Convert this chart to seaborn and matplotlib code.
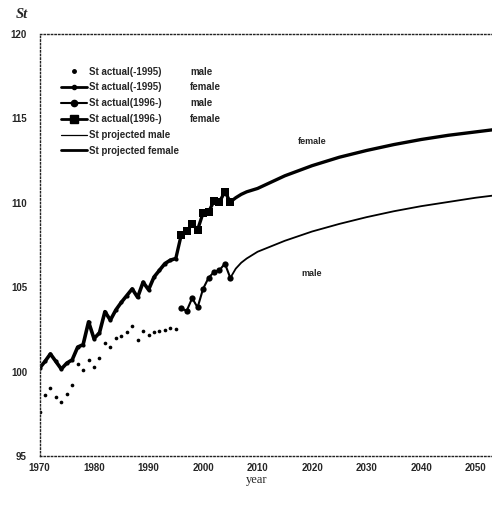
import numpy as np
import pandas as pd
import matplotlib
matplotlib.use("Agg")
import matplotlib.pyplot as plt
import seaborn as sns
from matplotlib.lines import Line2D

# ---- data -------------------------------------------------------------
years_pre = list(range(1970, 1996))
male_pre = [97.6, 98.6, 99.0, 98.5, 98.2, 98.7, 99.2, 100.45, 100.1, 100.7,
            100.25, 100.8, 101.7, 101.45, 102.0, 102.1, 102.35, 102.7, 101.9,
            102.4, 102.15, 102.35, 102.4, 102.45, 102.6, 102.5]
female_pre = [100.2, 100.6, 101.05, 100.6, 100.15, 100.5, 100.7, 101.45, 101.6,
              102.95, 101.95, 102.3, 103.55, 103.05, 103.65, 104.1, 104.5,
              104.9, 104.4, 105.3, 104.85, 105.6, 106.0, 106.4, 106.6, 106.7]

years_post = list(range(1996, 2006))
male_post = [103.75, 103.6, 104.35, 103.8, 104.9, 105.55, 105.9, 106.0, 106.4, 105.55]
female_post = [108.1, 108.3, 108.75, 108.4, 109.4, 109.45, 110.1, 110.05, 110.65, 110.05]

years_proj = [2005, 2006, 2007, 2008, 2010, 2015, 2020, 2025, 2030, 2035,
              2040, 2045, 2050, 2055]
male_proj = [105.55, 106.1, 106.45, 106.7, 107.1, 107.75, 108.3, 108.75, 109.15,
             109.5, 109.8, 110.05, 110.3, 110.5]
female_proj = [110.05, 110.3, 110.5, 110.65, 110.85, 111.6, 112.2, 112.7, 113.1,
               113.45, 113.75, 114.0, 114.2, 114.4]

x_ticks = [1970, 1980, 1990, 2000, 2010, 2020, 2030, 2040, 2050]
y_ticks = [95, 100, 105, 110, 115, 120]

legend_labels = ["St actual(-1995)", "St actual(-1995)", "St actual(1996-)",
                 "St actual(1996-)", "St projected male", "St projected female"]
legend_sex = ["male", "female", "male", "female"]

# ---- figure -----------------------------------------------------------
sns.set_style("white")
plt.rcParams["font.family"] = ["Liberation Sans", "DejaVu Sans"]

fig = plt.figure(figsize=(4.92, 5.09), dpi=100)
ax = fig.add_axes([39.5 / 492, 1 - 456 / 509, (492 - 39.5) / 492, (456 - 34) / 509])

pre = pd.DataFrame({"year": years_pre, "male": male_pre, "female": female_pre})
post = pd.DataFrame({"year": years_post, "male": male_post, "female": female_post})
proj = pd.DataFrame({"year": years_proj, "male": male_proj, "female": female_proj})

k = "black"
# projections
sns.lineplot(data=proj, x="year", y="male", ax=ax, color=k, lw=1.3)
sns.lineplot(data=proj, x="year", y="female", ax=ax, color=k, lw=2.4)
# actual up to 1995
sns.lineplot(data=pre, x="year", y="female", ax=ax, color=k, lw=2.6,
             marker="o", markersize=3, markeredgewidth=0)
sns.scatterplot(data=pre, x="year", y="male", ax=ax, color=k, s=7, linewidth=0)
# join 1995 to 1996 for females
ax.plot([years_pre[-1], years_post[0]], [female_pre[-1], female_post[0]],
        color=k, lw=2.4)
# actual from 1996
sns.lineplot(data=post, x="year", y="male", ax=ax, color=k, lw=1.5,
             marker="o", markersize=4.5, markeredgewidth=0)
sns.lineplot(data=post, x="year", y="female", ax=ax, color=k, lw=2.4,
             marker="s", markersize=5.5, markeredgewidth=0)

ax.set_xlim(1970, 2053.0)
ax.set_ylim(95, 120)
ax.set_xticks(x_ticks)
ax.set_yticks(y_ticks)
ax.set_xticklabels([str(v) for v in x_ticks], fontsize=7, fontweight="bold")
ax.set_yticklabels([str(v) for v in y_ticks], fontsize=7, fontweight="bold")
ax.tick_params(axis="both", length=0)
ax.tick_params(axis="y", pad=9)
ax.tick_params(axis="x", pad=5)
ax.set_xlabel("")
ax.set_ylabel("")

for side in ["left", "top", "bottom"]:
    ax.spines[side].set_linestyle((0, (1, 1.6)))
    ax.spines[side].set_linewidth(1.0)
    ax.spines[side].set_color("#222222")
ax.spines["right"].set_visible(False)

ax.text(2020, 113.66, "female", fontsize=6.5, fontweight="bold",
        ha="center", va="center")
ax.text(2020, 105.84, "male", fontsize=6.5, fontweight="bold",
        ha="center", va="center")

handles = [
    Line2D([], [], color=k, lw=0, marker="o", markersize=2.5),
    Line2D([], [], color=k, lw=2.0, marker="o", markersize=3),
    Line2D([], [], color=k, lw=1.5, marker="o", markersize=4.5),
    Line2D([], [], color=k, lw=2.0, marker="s", markersize=5.5),
    Line2D([], [], color=k, lw=0.9),
    Line2D([], [], color=k, lw=2.0),
]
leg = ax.legend(handles, legend_labels, loc="upper left",
                bbox_to_anchor=(0.04, 0.932), frameon=False,
                prop={"size": 7, "weight": "bold"}, handlelength=2.6,
                handletextpad=0.2, labelspacing=0.6, borderaxespad=0)

fig.canvas.draw()
for t, sex in zip(leg.get_texts(), legend_sex):
    bb = t.get_window_extent()
    yc = (bb.y0 + bb.y1) / 2
    fig.text(190 / 492, yc / fig.bbox.height, sex, fontsize=7,
             fontweight="bold", va="center", ha="left")

fig.text(22 / 492, 1 - 15 / 509, "St", fontsize=10.5, style="italic",
         fontweight="bold", family=["Liberation Serif", "DejaVu Serif"],
         ha="center", va="center")
fig.text(257 / 492, 1 - 480 / 509, "year", fontsize=9,
         family=["Liberation Serif", "DejaVu Serif"], ha="center", va="center")

fig.savefig("out.png", dpi=100)
